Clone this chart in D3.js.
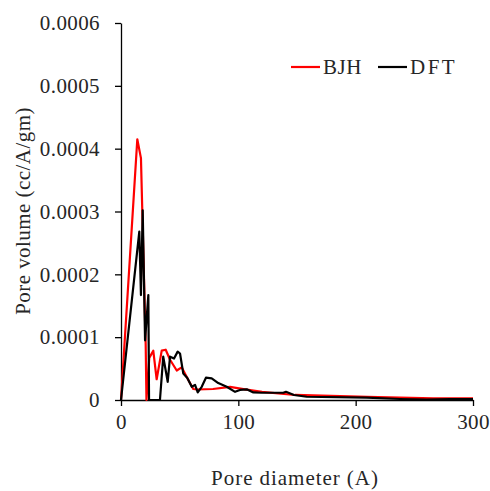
<!DOCTYPE html>
<html>
<head>
<meta charset="utf-8">
<script src="https://cdn.jsdelivr.net/npm/d3@7"></script>
<style>
  body { margin: 0; background: #fff; }
  text { font-family: "Liberation Serif", "Times New Roman", serif; fill: #262626; }
</style>
</head>
<body>
<svg id="chart"></svg>
<script>
// Pore size distribution (diameter in A, volume in cc/A/gm)
const bjhDiameter = [0, 13.9, 17.0, 21.05, 21.7, 24.1, 27.5, 30.4, 34.7, 38.1, 41.8, 47.5, 51.7, 57.4, 61.6, 64.8, 78.4, 92.9, 105.7, 120.2, 148.3, 209.7, 266, 300];
const bjhVolume = [0, 4.15, 3.85, 0.875, 0, 0.67, 0.785, 0.33, 0.785, 0.80, 0.64, 0.47, 0.52, 0.32, 0.175, 0.167, 0.175, 0.21, 0.17, 0.13, 0.08, 0.052, 0.027, 0.027].map(v => v * 1e-4);

const dftDiameter = [0, 15.6, 17.0, 18.5, 20.5, 23.3, 23.9, 33.2, 36.0, 39.8, 41.8, 45.2, 48.3, 50.3, 53.1, 56.5, 60.3, 63.1, 65.4, 68.8, 72.4, 77.3, 82.9, 90.1, 97.2, 101.4, 107.1, 112.8, 119.9, 138.3, 140.6, 147.4, 158.3, 209.4, 237.8, 260.5, 280.4, 300];
const dftVolume = [0, 2.68, 1.67, 3.02, 0.95, 1.67, 0, 0, 0.69, 0.29, 0.69, 0.66, 0.77, 0.74, 0.42, 0.35, 0.21, 0.24, 0.12, 0.21, 0.355, 0.345, 0.27, 0.21, 0.13, 0.16, 0.17, 0.12, 0.115, 0.115, 0.13, 0.08, 0.052, 0.037, 0.016, 0.005, 0.016, 0.016].map(v => v * 1e-4);

const xTicks = [0, 100, 200, 300];
const yTicks = [0, 0.0001, 0.0002, 0.0003, 0.0004, 0.0005, 0.0006];
const yTickLabels = ["0", "0.0001", "0.0002", "0.0003", "0.0004", "0.0005", "0.0006"];

const series = [
    { name: "BJH", color: "#ff0000", x: bjhDiameter, y: bjhVolume },
    { name: "DFT", color: "#000000", x: dftDiameter, y: dftVolume }
];

const width = 490;
const height = 491;
const margin = { top: 23, right: 17, bottom: 91, left: 121 };

const svg = d3.select("#chart")
    .attr("width", width)
    .attr("height", height);

const x = d3.scaleLinear()
    .domain([0, 300])
    .range([margin.left, width - margin.right]);

const y = d3.scaleLinear()
    .domain([0, 0.0006])
    .range([height - margin.bottom, margin.top]);

// axes
const xAxis = svg.append("g")
    .attr("transform", `translate(0,${height - margin.bottom})`)
    .call(d3.axisBottom(x).tickValues(xTicks).tickSize(6).tickPadding(8).tickSizeOuter(0));

const yAxis = svg.append("g")
    .attr("transform", `translate(${margin.left},0)`)
    .call(d3.axisLeft(y).tickValues(yTicks).tickFormat((d, i) => yTickLabels[i]).tickSize(6).tickPadding(15).tickSizeOuter(0));

[xAxis, yAxis].forEach(g => {
    g.selectAll("path, line").attr("stroke", "#000").attr("stroke-width", 1.3);
    g.selectAll("text").style("font-size", "21px").style("letter-spacing", "0.4px").attr("fill", "#262626");
});

// lines
const line = d3.line()
    .x(d => x(d[0]))
    .y(d => y(d[1]));

series.forEach(s => {
    svg.append("path")
        .datum(s.x.map((v, i) => [v, s.y[i]]))
        .attr("fill", "none")
        .attr("stroke", s.color)
        .attr("stroke-width", 2.2)
        .attr("stroke-linejoin", "round")
        .attr("d", line);
});

// legend
const legend = svg.append("g").attr("transform", "translate(291,67)");
const legendX = [0, 87];
series.forEach((s, i) => {
    legend.append("line")
        .attr("x1", legendX[i]).attr("x2", legendX[i] + 29)
        .attr("y1", 0).attr("y2", 0)
        .attr("stroke", s.color)
        .attr("stroke-width", 2.2);
    legend.append("text")
        .attr("x", legendX[i] + 32)
        .attr("y", 7)
        .style("font-size", "21px")
        .style("letter-spacing", i === 1 ? "2.5px" : "0.5px")
        .text(s.name);
});

// axis titles
svg.append("text")
    .attr("x", 295)
    .attr("y", 485)
    .attr("text-anchor", "middle")
    .style("font-size", "21px")
    .style("letter-spacing", "0.95px")
    .text("Pore diameter (A)");

svg.append("text")
    .attr("transform", "rotate(-90)")
    .attr("x", -211)
    .attr("y", 30)
    .attr("text-anchor", "middle")
    .style("font-size", "21px")
    .style("letter-spacing", "0.45px")
    .text("Pore volume (cc/A/gm)");
</script>
</body>
</html>
